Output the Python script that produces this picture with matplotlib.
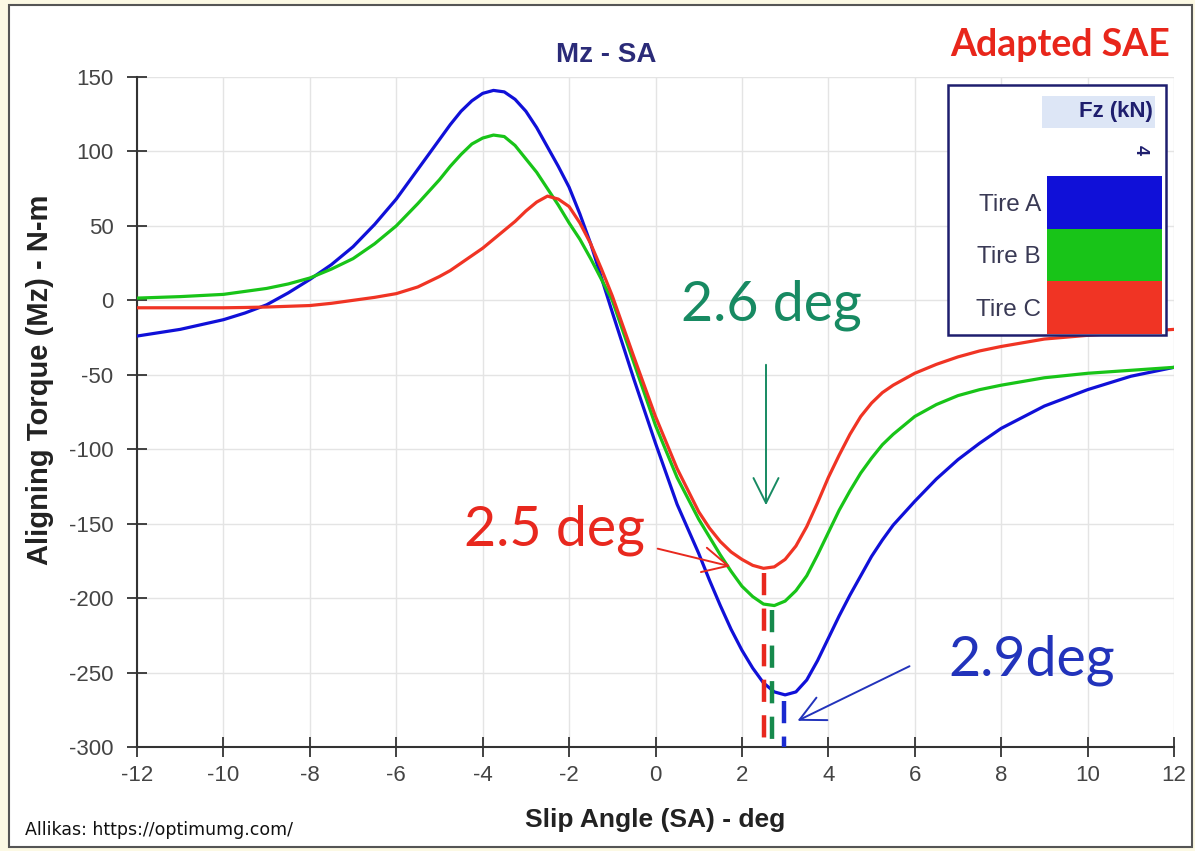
import matplotlib
matplotlib.use("Agg")
import matplotlib.pyplot as plt
from matplotlib.patches import Rectangle

plt.rcParams["axes.unicode_minus"] = False

# Slip angle samples (deg) and aligning torque (N-m)
slip_angle = [-12, -11, -10, -9.5, -9, -8.5, -8, -7.5, -7, -6.5, -6, -5.5, -5, -4.75, -4.5,
              -4.25, -4, -3.75, -3.5, -3.25, -3, -2.75, -2.5, -2.25, -2, -1.75, -1.5, -1.25,
              -1, -0.5, 0, 0.5, 1, 1.25, 1.5, 1.75, 2, 2.25, 2.5, 2.75, 3, 3.25, 3.5,
              3.75, 4, 4.25, 4.5, 4.75, 5, 5.25, 5.5, 6, 6.5, 7, 7.5, 8, 9, 10, 11, 12]
mz_tire_a = [-24, -19.5, -13, -8.5, -3, 5, 14, 24, 36, 51, 68, 88, 108, 118, 127,
             134, 139, 141, 140, 135, 127, 116, 103, 90, 76, 58, 38, 15,
             -8, -53, -96, -137, -170, -188, -205, -221, -235, -247, -257, -263, -265, -263, -255,
             -242, -227, -212, -198, -185, -172, -161, -151, -135, -120, -107, -96, -86, -71, -60,
             -51, -45]
mz_tire_b = [1.5, 2.5, 4, 6, 8, 11, 15, 21, 28, 38, 50, 65, 81, 90, 98,
             105, 109, 111, 110, 104, 95, 86, 75, 64, 52, 41, 28, 14,
             0, -42, -84, -119, -147, -159, -171, -182, -192, -199, -204, -205, -202, -195, -185,
             -171, -156, -141, -128, -116, -106, -97, -90, -78, -70, -64, -60, -57, -52, -49,
             -47, -45]
mz_tire_c = [-5, -5, -5, -4.8, -4.5, -4, -3.5, -2, 0, 2, 4.5, 9, 16, 20, 25,
             30, 35, 41, 47, 53, 60, 66, 70, 68, 63, 52, 38, 21,
             3, -38, -78, -113, -142, -153, -162, -169, -174, -178, -180, -179, -174, -165, -152,
             -136, -119, -104, -90, -78, -69, -62, -57, -49, -43, -38, -34, -31, -26, -23.5,
             -21.5, -19.5]

tires = ["Tire A", "Tire B", "Tire C"]
tire_colors = ["#1010d8", "#18c418", "#f03424"]

# slip angle of the minimum, as marked by the dashed lines
min_angle = [2.97, 2.7, 2.5]
min_value = [-266, -205, -180]
min_labels = ["2.9deg", "2.6 deg", "2.5 deg"]
label_colors = ["#2233bb", "#178a62", "#e8281e"]

x_ticks = list(range(-12, 13, 2))
y_ticks = list(range(-300, 151, 50))

W, H = 1195, 851


def px(x, y):
    # picture pixels (top-left origin) -> figure pixels
    return (x, H - y)


fig = plt.figure(figsize=(W / 100, H / 100), dpi=100)
fig.patch.set_facecolor("#fcf9e4")
fig.add_artist(Rectangle((9 / W, 1 - 847 / H), (1192 - 9) / W, (847 - 5) / H,
                         transform=fig.transFigure, facecolor="white",
                         edgecolor="#555555", lw=1.5, zorder=0))

ax = fig.add_axes([137 / W, 1 - 747 / H, (1174 - 137) / W, (747 - 77) / H])
ax.set_facecolor("white")

for mz, c in zip([mz_tire_a, mz_tire_b, mz_tire_c], tire_colors):
    ax.plot(slip_angle, mz, color=c, lw=2.3, zorder=3, solid_joinstyle="round")

# dashed markers under each minimum
for xa, ya, c in zip(min_angle, min_value, ["#1a2ad0", "#168a4c", "#e8281e"]):
    ax.plot([xa, xa], [ya - 3, -300], color=c, lw=3.2, ls=(0, (5, 3)), zorder=4)

ax.set_xlim(-12, 12)
ax.set_ylim(-300, 150)
ax.set_xticks(x_ticks)
ax.set_yticks(y_ticks)
ax.grid(True, color="#e4e4e4", lw=1)
ax.set_axisbelow(True)
for s in ["top", "right"]:
    ax.spines[s].set_visible(False)
for s in ["left", "bottom"]:
    ax.spines[s].set_color("#333333")
    ax.spines[s].set_linewidth(1.5)
ax.tick_params(direction="inout", length=14, width=1.3, color="#333333",
               labelcolor="#444444", labelsize=16)
ax.tick_params(axis="y", pad=10)
ax.tick_params(axis="x", pad=6)
for lab in ax.get_xticklabels() + ax.get_yticklabels():
    lab.set_family("Liberation Sans")

fs = dict(family="Liberation Sans", weight="bold", color="#222222")
fig.text(655 / W, 1 - 820 / H, "Slip Angle (SA) - deg", ha="center", va="center",
         fontsize=19, **fs)
fig.text(40 / W, 1 - 380 / H, "Aligning Torque (Mz) - N-m", ha="center", va="center",
         rotation=90, fontsize=21, **fs)
fig.text(606 / W, 1 - 55 / H, "Mz - SA", ha="center", va="center", family="Liberation Sans",
         weight="bold", color="#2b2b78", fontsize=20)
fig.text(1060 / W, 1 - 45 / H, "Adapted SAE", ha="center", va="center", family="Lato",
         weight="bold", color="#e8261b", fontsize=27)
fig.text(25 / W, 1 - 830 / H, "Allikas: https://optimumg.com/", ha="left", va="center",
         family="DejaVu Sans", color="#111111", fontsize=12.5)

# legend box
fig.add_artist(Rectangle((948 / W, 1 - 335 / H), (1166 - 948) / W, (335 - 85) / H,
                         transform=fig.transFigure, facecolor="white",
                         edgecolor="#1e1e6e", lw=1.8, zorder=5))
fig.add_artist(Rectangle((1042 / W, 1 - 128 / H), (1155 - 1042) / W, (128 - 96) / H,
                         transform=fig.transFigure, facecolor="#dde6f6",
                         edgecolor="none", zorder=6))
fig.text(1153 / W, 1 - 112 / H, "Fz (kN)", ha="right", va="center", family="Liberation Sans",
         weight="bold", color="#1e1e6e", fontsize=16, zorder=7)
fig.text(1140 / W, 1 - 150 / H, "4", ha="center", va="center", family="Liberation Sans",
         weight="bold", color="#1e1e6e", fontsize=13, rotation=-90, zorder=7)
for i, (name, c) in enumerate(zip(tires, tire_colors)):
    top = 176 + i * 52.5
    fig.add_artist(Rectangle((1047 / W, 1 - (top + 52.5) / H), (1162 - 1047) / W, 52.5 / H,
                             transform=fig.transFigure, facecolor=c, edgecolor="none", zorder=6))
    fig.text(1041 / W, 1 - (top + 29) / H, name, ha="right", va="center",
             family="Liberation Sans", color="#3a3a55", fontsize=17.5, zorder=7)

# callouts
big = dict(family="Lato", fontsize=40, ha="center", va="center")
fig.text(1032 / W, 1 - 660 / H, min_labels[0], color=label_colors[0], **big)
fig.text(771 / W, 1 - 305 / H, min_labels[1], color=label_colors[1], **big)
fig.text(555 / W, 1 - 530 / H, min_labels[2], color=label_colors[2], **big)

arrows = [((912, 665), (795, 722), label_colors[0]),
          ((766, 362), (766, 508), label_colors[1]),
          ((655, 548), (733, 567), label_colors[2])]
for tail, tip, c in arrows:
    ax.annotate("", xy=px(*tip), xytext=px(*tail), xycoords="figure pixels",
                textcoords="figure pixels",
                arrowprops=dict(arrowstyle="->,head_length=0.6,head_width=0.3",
                                color=c, lw=1.4, mutation_scale=30), zorder=8)

fig.savefig("out.png", dpi=100, facecolor=fig.get_facecolor())
